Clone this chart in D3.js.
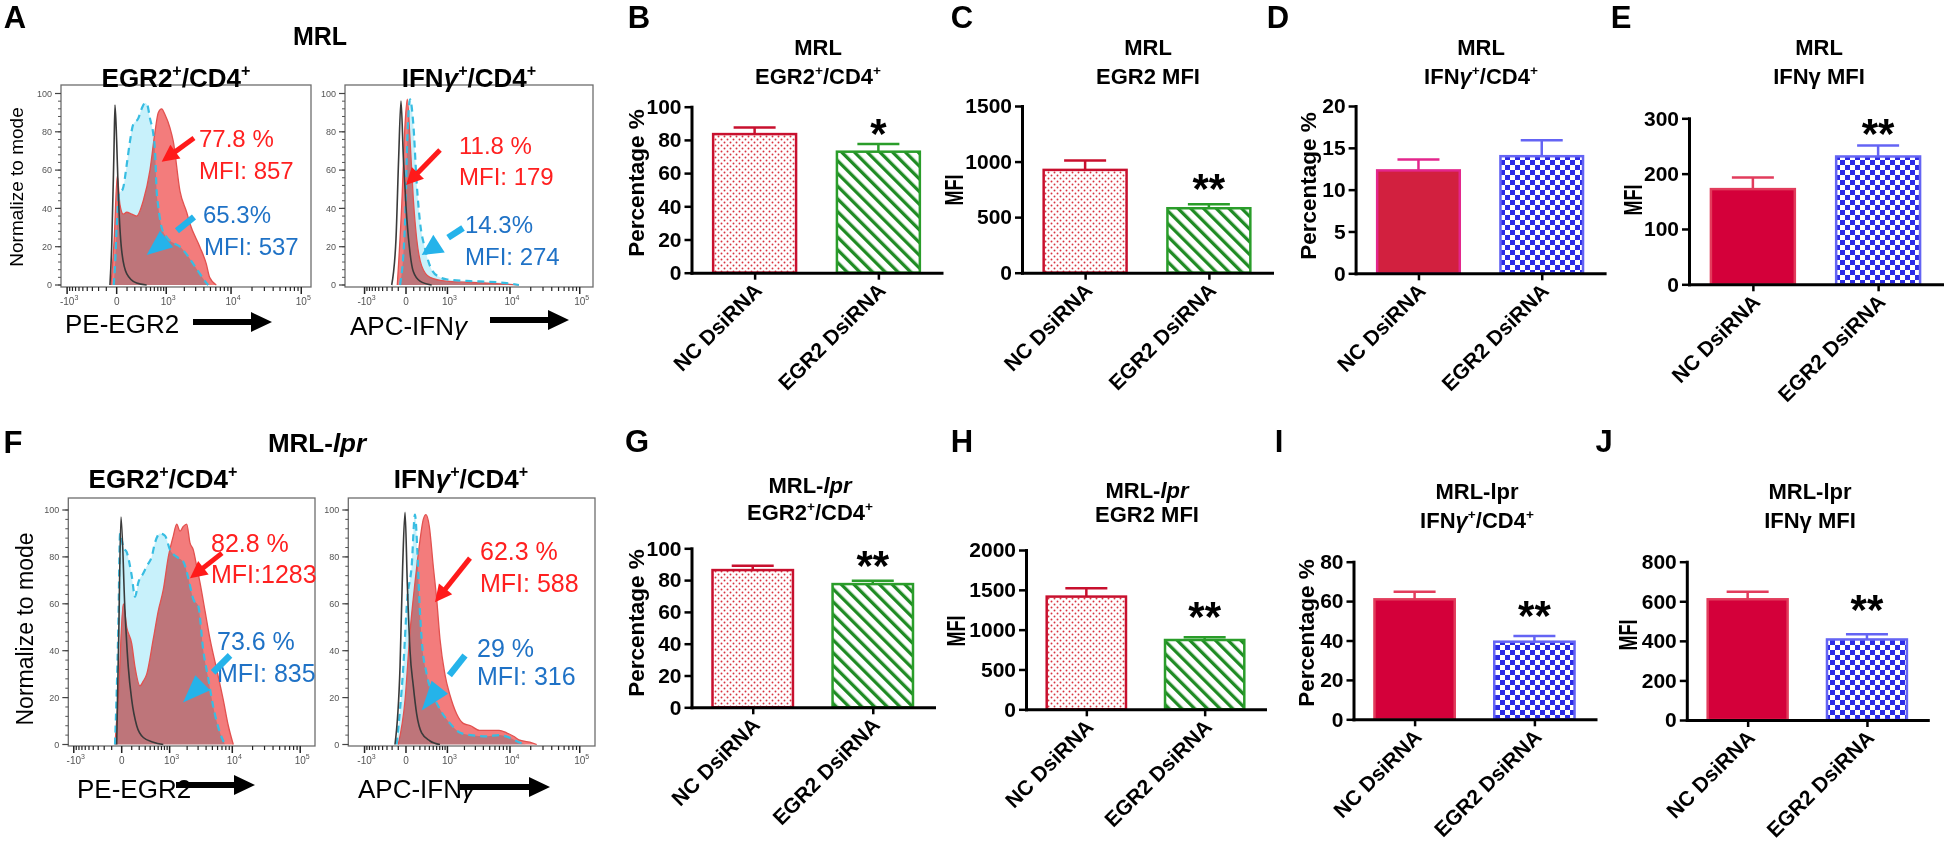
<!DOCTYPE html>
<html><head><meta charset="utf-8">
<script src="https://cdn.jsdelivr.net/npm/d3@7"></script>
<style>html,body{margin:0;padding:0;background:#fff;}svg{display:block;}</style>
</head><body><script>
// ---------------- DATA ----------------
const groups = ["NC DsiRNA", "EGR2 DsiRNA"];

// bar charts: mean and SEM
const mrlEgr2PctMean = [83.5, 72.9], mrlEgr2PctErr = [3.9, 4.6];
const mrlEgr2MfiMean = [925, 580],   mrlEgr2MfiErr = [84, 36];
const mrlIfngPctMean = [12.3, 14.0], mrlIfngPctErr = [1.3, 1.9];
const mrlIfngMfiMean = [172, 231],   mrlIfngMfiErr = [21, 20];
const lprEgr2PctMean = [86.3, 77.5], lprEgr2PctErr = [2.7, 2.1];
const lprEgr2MfiMean = [1415, 870],  lprEgr2MfiErr = [105, 35];
const lprIfngPctMean = [60.9, 39.4], lprIfngPctErr = [3.9, 2.9];
const lprIfngMfiMean = [610, 407],   lprIfngMfiErr = [38, 26];

const ticksPct100 = [0, 20, 40, 60, 80, 100];
const ticksMrlEgr2Mfi = [0, 500, 1000, 1500];
const ticksPct20 = [0, 5, 10, 15, 20];
const ticksMrlIfngMfi = [0, 100, 200, 300];
const ticksLprEgr2Mfi = [0, 500, 1000, 1500, 2000];
const ticksPct80 = [0, 20, 40, 60, 80];
const ticksLprIfngMfi = [0, 200, 400, 600, 800];

const sigB = "*", sigC = "**", sigD = "", sigE = "**", sigG = "**", sigH = "**", sigI = "**", sigJ = "**";

// flow histograms: [fluorescence, % of mode]
const mrlEgr2Iso = [[-61,0],[-44,20],[-23,70],[-14,94],[0,75],[13,49],[44,18],[96,6],[228,1],[412,0]];
const mrlEgr2Nc = [[-50,0],[-20,25],[5,57],[28,42],[60,37],[96,38],[157,37],[228,36],[343,44],[487,60],[618,80],[715,90],[828,92],[949,89],[1162,82],[1322,75],[1703,49],[2177,38],[2451,32],[3464,20],[4339,11],[4860,4],[6104,0]];
const mrlEgr2Si = [[-25,0],[-14,10],[0,30],[22,48],[54,50],[103,65],[135,75],[179,84],[254,87],[312,92],[377,95],[426,94],[487,87],[570,79],[618,70],[666,49],[715,41],[828,30],[1017,25],[1322,22],[1703,20],[2177,16],[2757,11],[3464,6],[4147,2],[4637,0]];

const mrlIfngIso = [[-208,0],[-135,24],[-94,67],[-62,96],[-32,67],[0,41],[40,20],[94,7],[202,2],[457,0]];
const mrlIfngNc = [[-115,0],[-53,41],[-11,84],[15,97],[49,76],[94,45],[146,24],[233,10],[415,4],[953,2],[4481,1],[13490,0]];
const mrlIfngSi = [[-75,0],[-11,33],[15,76],[49,97],[94,84],[146,53],[202,33],[300,19],[459,8],[709,4],[953,3],[2525,2],[4481,1.7],[8904,1],[13490,0]];

const lprEgr2Iso = [[-46,0],[-26,47],[-6,97],[29,57],[62,33],[100,19],[164,8],[266,3],[472,1],[760,0]];
const lprEgr2Nc = [[-63,0],[-30,20],[14,60],[46,50],[100,43],[141,33],[212,25],[266,27],[329,30],[472,45],[604,57],[760,66],[946,80],[1165,89],[1335,94],[1521,91],[1729,93],[1968,94],[2227,86],[2517,83],[2850,76],[3216,69],[3850,57],[4597,45],[5822,32],[7325,19],[8720,8],[10350,0]];
const lprEgr2Si = [[-63,0],[-30,50],[-14,90],[14,84],[46,82],[100,72],[141,63],[186,69],[266,73],[329,76],[434,80],[515,86],[654,90],[821,89],[1016,83],[1335,80],[1729,78],[2090,71],[2517,62],[3023,59],[3622,40],[4330,28],[5167,16],[6535,5],[7775,0]];

const lprIfngIso = [[-151,0],[-75,33],[-40,76],[-11,99],[15,69],[49,40],[94,25],[146,13],[233,5],[415,1.5],[709,0]];
const lprIfngNc = [[-100,0],[-11,19],[49,48],[119,69],[202,87],[265,96],[321,98],[398,93],[501,76],[601,62],[709,45],[892,30],[1118,21],[1475,13],[1911,9],[2525,8],[3482,6],[4895,6],[6912,6],[8904,5],[11280,3.5],[13490,2],[19360,1],[24400,0]];
const lprIfngSi = [[-124,0],[-32,33],[15,62],[71,76],[119,98],[156,83],[190,62],[233,45],[337,30],[501,21],[709,15],[1118,9],[1702,5],[2525,4],[4481,3.5],[6912,4],[9660,3],[13490,1],[17200,0]];

const mrlEgr2Ann = ["77.8 %", "MFI: 857", "65.3%", "MFI: 537"];
const mrlIfngAnn = ["11.8 %", "MFI: 179", "14.3%", "MFI: 274"];
const lprEgr2Ann = ["82.8 %", "MFI:1283", "73.6 %", "MFI: 835"];
const lprIfngAnn = ["62.3 %", "MFI: 588", "29 %", "MFI: 316"];

const flowTicks = [-1000, 0, 1000, 10000, 100000];
const flowTickLabels = [["-10","3"],["0",""],["10","3"],["10","4"],["10","5"]];
const histYTicks = [0, 20, 40, 60, 80, 100];

// ---------------- SETUP ----------------
const W = 1946, H = 846;
const FONT = '"Liberation Sans", Arial, Helvetica, sans-serif';
const svg = d3.select('body').append('svg').attr('width', W).attr('height', H).attr('font-family', FONT);
svg.append('rect').attr('width', W).attr('height', H).attr('fill', '#fff');

const defs = svg.append('defs');
const pD = defs.append('pattern').attr('id', 'dots').attr('patternUnits', 'userSpaceOnUse').attr('width', 6).attr('height', 6);
pD.append('rect').attr('width', 6).attr('height', 6).attr('fill', '#fff');
pD.append('circle').attr('cx', 1.5).attr('cy', 1.5).attr('r', 0.95).attr('fill', '#d8343f');
pD.append('circle').attr('cx', 4.5).attr('cy', 4.5).attr('r', 0.95).attr('fill', '#d8343f');
const pH = defs.append('pattern').attr('id', 'hatch').attr('patternUnits', 'userSpaceOnUse').attr('width', 9).attr('height', 9).attr('patternTransform', 'rotate(-45)');
pH.append('rect').attr('width', 9).attr('height', 9).attr('fill', '#fff');
pH.append('rect').attr('width', 3.3).attr('height', 9).attr('fill', '#1f8b24');
const pC = defs.append('pattern').attr('id', 'checker').attr('patternUnits', 'userSpaceOnUse').attr('width', 10).attr('height', 10);
pC.append('rect').attr('width', 10).attr('height', 10).attr('fill', '#fff');
pC.append('rect').attr('width', 5).attr('height', 5).attr('fill', '#2b2be6');
pC.append('rect').attr('x', 5).attr('y', 5).attr('width', 5).attr('height', 5).attr('fill', '#2b2be6');

function richText(g, x, y, parts, size, opts = {}) {
  const t = g.append('text').attr('x', x).attr('y', y).attr('font-size', size)
    .attr('font-weight', opts.weight || 'normal').attr('text-anchor', opts.anchor || 'start')
    .attr('fill', opts.fill || '#000');
  let up = false;
  parts.forEach(p => {
    const s = Array.isArray(p) ? p[0] : p, k = Array.isArray(p) ? p[1] : '';
    const ts = t.append('tspan').text(s);
    if (k === 'sup') {
      ts.attr('font-size', size * 0.62);
      if (!up) { ts.attr('dy', -size * 0.42); up = true; }
    } else {
      if (up) { ts.attr('dy', size * 0.42); up = false; }
      if (k === 'it') ts.attr('font-style', 'italic');
    }
  });
  return t;
}

// panel letters
const panelLetters = ['A','B','C','D','E','F','G','H','I','J'];
const letterPos = [[15,28],[639,28],[962,28],[1278,28],[1621,28],[13,453],[637,452],[962,452],[1279,452],[1604,452]];
panelLetters.forEach((l, i) => svg.append('text').attr('x', letterPos[i][0]).attr('y', letterPos[i][1])
  .attr('text-anchor', 'middle').attr('font-size', 31).attr('font-weight', 'bold').text(l));

// group titles for flow panels
richText(svg, 320, 45, [['MRL']], 25, { weight: 'bold', anchor: 'middle' });
richText(svg, 317, 452, [['MRL-'], ['lpr', 'it']], 26, { weight: 'bold', anchor: 'middle' });

// ---------------- HISTOGRAMS ----------------
function bigArrow(g, xa, xb, yc) {
  g.append('path').attr('d', `M${xa},${yc - 3}H${xb - 21}V${yc - 10}L${xb},${yc}L${xb - 21},${yc + 10}V${yc + 3}H${xa}Z`).attr('fill', '#000');
}
function annArrow(g, p1, p2, color, dashed) {
  const [x1, y1] = p1, [x2, y2] = p2;
  const dx = x2 - x1, dy = y2 - y1, L = Math.hypot(dx, dy), ux = dx / L, uy = dy / L, px = -uy, py = ux;
  let headL, hw, sw;
  if (dashed) {
    headL = L * 0.42; hw = 21; sw = 6.5;
    const d1 = L * 0.36;
    g.append('line').attr('x1', x1).attr('y1', y1).attr('x2', x1 + ux * d1).attr('y2', y1 + uy * d1).attr('stroke', color).attr('stroke-width', sw);
  } else {
    headL = 17; hw = 17; sw = 5;
    g.append('line').attr('x1', x1).attr('y1', y1).attr('x2', x2 - ux * headL * 0.8).attr('y2', y2 - uy * headL * 0.8).attr('stroke', color).attr('stroke-width', sw);
  }
  const bx = x2 - ux * headL, by = y2 - uy * headL;
  g.append('path').attr('d', `M${x2},${y2}L${bx + px * hw / 2},${by + py * hw / 2}L${bx - px * hw / 2},${by - py * hw / 2}Z`).attr('fill', color);
}

const flowMinor = [];
[-1, 1].forEach(s => d3.range(1, 10).forEach(k => flowMinor.push(s * k * 100)));
[1000, 10000].forEach(d => d3.range(2, 10).forEach(k => flowMinor.push(k * d)));

function drawHist(P) {
  const g = svg.append('g');
  const x = d3.scaleSymlog().constant(P.c).domain(P.xDomain).range([P.x0, P.x1]);
  const y = d3.scaleLinear().domain([0, 100]).range([P.yZero, P.yHundred]);
  const area = d3.area().x(d => x(d[0])).y0(y(0)).y1(d => y(d[1])).curve(d3.curveMonotoneX);
  const line = d3.line().x(d => x(d[0])).y(d => y(d[1])).curve(d3.curveMonotoneX);
  g.append('path').datum(P.si).attr('d', area).attr('fill', '#c8f1fb');
  g.append('path').datum(P.nc).attr('d', area).attr('fill', '#f37c7c').style('mix-blend-mode', 'multiply');
  g.append('path').datum(P.nc).attr('d', line).attr('fill', 'none').attr('stroke', '#e2514f').attr('stroke-width', 1.3);
  g.append('path').datum(P.si).attr('d', line).attr('fill', 'none').attr('stroke', '#38bde2').attr('stroke-width', 2.2).attr('stroke-dasharray', '7,5');
  g.append('path').datum(P.iso).attr('d', line).attr('fill', 'none').attr('stroke', '#3a3a3a').attr('stroke-width', 1.6);
  g.append('rect').attr('x', P.x0).attr('y', P.top).attr('width', P.x1 - P.x0).attr('height', P.bottom - P.top)
    .attr('fill', 'none').attr('stroke', '#6d6d6d').attr('stroke-width', 1.3);
  // y axis
  d3.range(0, 101, 4).forEach(v => g.append('line').attr('x1', P.x0 - 3).attr('x2', P.x0).attr('y1', y(v)).attr('y2', y(v)).attr('stroke', '#555').attr('stroke-width', 1));
  histYTicks.forEach(v => {
    g.append('line').attr('x1', P.x0 - 6).attr('x2', P.x0).attr('y1', y(v)).attr('y2', y(v)).attr('stroke', '#444').attr('stroke-width', 1.2);
    g.append('text').attr('x', P.x0 - 9).attr('y', y(v)).attr('dy', '0.35em').attr('text-anchor', 'end')
      .attr('font-size', 9).attr('fill', '#555').text(v);
  });
  // x axis
  flowMinor.forEach(v => g.append('line').attr('x1', x(v)).attr('x2', x(v)).attr('y1', P.bottom).attr('y2', P.bottom + 4).attr('stroke', '#222').attr('stroke-width', 1.2));
  flowTicks.forEach((v, i) => {
    g.append('line').attr('x1', x(v)).attr('x2', x(v)).attr('y1', P.bottom).attr('y2', P.bottom + 7).attr('stroke', '#222').attr('stroke-width', 1.5);
    const t = g.append('text').attr('x', x(v) + (flowTickLabels[i][1] ? 2 : 0)).attr('y', P.bottom + 18)
      .attr('text-anchor', 'middle').attr('font-size', 10).attr('fill', '#555');
    t.append('tspan').text(flowTickLabels[i][0]);
    if (flowTickLabels[i][1]) t.append('tspan').attr('dy', -5).attr('font-size', 7).text(flowTickLabels[i][1]);
  });
  // titles and labels
  richText(g, P.titlePos[0], P.titlePos[1], P.title, 26, { weight: 'bold', anchor: 'middle' });
  richText(g, P.xLabelPos[0], P.xLabelPos[1], P.xLabel, 26);
  bigArrow(g, P.axArrow[0], P.axArrow[1], P.axArrow[2]);
  if (P.yLabel) {
    g.append('text').attr('transform', `translate(${P.yLabelPos[0]},${P.yLabelPos[1]}) rotate(-90)`)
      .attr('text-anchor', 'middle').attr('dy', '0.35em').attr('font-size', P.yLabelSize).text('Normalize to mode');
  }
  // annotations
  const A = P.ann;
  A.texts.forEach((s, i) => g.append('text').attr('x', A.pos[i][0]).attr('y', A.pos[i][1]).attr('font-size', A.size)
    .attr('fill', i < 2 ? '#ff2020' : '#1f72c6').text(s));
  annArrow(g, [x(A.red[0][0]), y(A.red[0][1])], [x(A.red[1][0]), y(A.red[1][1])], '#ff1a1a', false);
  annArrow(g, [x(A.blue[0][0]), y(A.blue[0][1])], [x(A.blue[1][0]), y(A.blue[1][1])], '#25b3ea', true);
}

const egrTitle = [['EGR2'], ['+', 'sup'], ['/CD4'], ['+', 'sup']];
const ifnTitle = [['IFN'], ['γ', 'it'], ['+', 'sup'], ['/CD4'], ['+', 'sup']];
const histPanels = [
  { iso: mrlEgr2Iso, nc: mrlEgr2Nc, si: mrlEgr2Si, c: 250, xDomain: [-1274, 137200], x0: 61, x1: 311, top: 85, bottom: 287, yZero: 285, yHundred: 93.5,
    title: egrTitle, titlePos: [176, 87], xLabel: [['PE-EGR2']], xLabelPos: [65, 333], axArrow: [193, 272, 322],
    yLabel: true, yLabelPos: [16, 187], yLabelSize: 19,
    ann: { size: 24, texts: mrlEgr2Ann, pos: [[199,147],[199,179],[203,223],[204,255]], red: [[2826,76.8],[828,64.4]], blue: [[2826,35.5],[412,15.7]] } },
  { iso: mrlIfngIso, nc: mrlIfngNc, si: mrlIfngSi, c: 350, xDomain: [-2203, 154300], x0: 345, x1: 593, top: 85, bottom: 287, yZero: 285, yHundred: 93.5,
    title: ifnTitle, titlePos: [469, 87], xLabel: [['APC-IFN'], ['γ', 'it']], xLabelPos: [350, 335], axArrow: [490, 569, 320],
    yLabel: false,
    ann: { size: 24, texts: mrlIfngAnn, pos: [[459,154],[459,185],[465,233],[465,265]], red: [[709,70.5],[0,52.2]], blue: [[1891,29.8],[233,15.7]] } },
  { iso: lprEgr2Iso, nc: lprEgr2Nc, si: lprEgr2Si, c: 250, xDomain: [-1252, 164450], x0: 68.3, x1: 315, top: 498, bottom: 746, yZero: 744.5, yHundred: 510,
    title: egrTitle, titlePos: [163, 488], xLabel: [['PE-EGR2']], xLabelPos: [77, 798], axArrow: [176, 255, 785],
    yLabel: true, yLabelPos: [25, 629], yLabelSize: 23,
    ann: { size: 25, texts: lprEgr2Ann, pos: [[211,552],[211,583],[217,650],[217,682]], red: [[7000,81.6],[2227,70.9]], blue: [[9245,38],[1708,17.9]] } },
  { iso: lprIfngIso, nc: lprIfngNc, si: lprIfngSi, c: 350, xDomain: [-1941, 164700], x0: 348.3, x1: 595, top: 498, bottom: 746, yZero: 744.5, yHundred: 510,
    title: ifnTitle, titlePos: [461, 488], xLabel: [['APC-IFN'], ['γ', 'it']], xLabelPos: [358, 798], axArrow: [460, 550, 787],
    yLabel: false,
    ann: { size: 25, texts: lprIfngAnn, pos: [[480,560],[480,592],[477,657],[477,685]], red: [[2465,79.5],[550,60.7]], blue: [[2041,38],[233,14.5]] } }
];
histPanels.forEach(drawHist);

// ---------------- BAR CHARTS ----------------
const barStyles = {
  dots: { fill: 'url(#dots)', stroke: '#c8102e' },
  hatch: { fill: 'url(#hatch)', stroke: '#2a9d2a' },
  solidD: { fill: '#d2203f', stroke: '#e3268c' },
  solid: { fill: '#d4003a', stroke: '#e23c5c' },
  checker: { fill: 'url(#checker)', stroke: '#6464f4' }
};
const mrlT = [['MRL']], lprItT = [['MRL-'], ['lpr', 'it']], lprT = [['MRL-lpr']];
const barPanels = [
  { mean: mrlEgr2PctMean, err: mrlEgr2PctErr, ticks: ticksPct100, ax: 691.5, w: 250, y0: 272.7, yTop: 106.7, t1: mrlT, t2: egrTitle, tcx: 818, tb: [55, 84], yl: 'Percentage %', ylp: [636, 183], styles: ['dots', 'hatch'], sig: sigB, sigDy: 19 },
  { mean: mrlEgr2MfiMean, err: mrlEgr2MfiErr, ticks: ticksMrlEgr2Mfi, ax: 1022, w: 250, y0: 272.7, yTop: 106, t1: mrlT, t2: [['EGR2 MFI']], tcx: 1148, tb: [55, 84], yl: 'MFI', ylp: [954, 190], styles: ['dots', 'hatch'], sig: sigC, sigDy: 24 },
  { mean: mrlIfngPctMean, err: mrlIfngPctErr, ticks: ticksPct20, ax: 1355.6, w: 249, y0: 273.3, yTop: 106, t1: mrlT, t2: ifnTitle, tcx: 1481, tb: [55, 84], yl: 'Percentage %', ylp: [1308, 186], styles: ['solidD', 'checker'], sig: sigD, sigDy: 20 },
  { mean: mrlIfngMfiMean, err: mrlIfngMfiErr, ticks: ticksMrlIfngMfi, ax: 1689, w: 253, y0: 284.3, yTop: 118.3, t1: mrlT, t2: [['IFN'], ['γ MFI']], tcx: 1819, tb: [55, 84], yl: 'MFI', ylp: [1633, 200], styles: ['solid', 'checker'], sig: sigE, sigDy: 20 },
  { mean: lprEgr2PctMean, err: lprEgr2PctErr, ticks: ticksPct100, ax: 691.5, w: 242.5, y0: 707.3, yTop: 548.3, t1: lprItT, t2: egrTitle, tcx: 810, tb: [493, 520], yl: 'Percentage %', ylp: [635.7, 623], styles: ['dots', 'hatch'], sig: sigG, sigDy: 24 },
  { mean: lprEgr2MfiMean, err: lprEgr2MfiErr, ticks: ticksLprEgr2Mfi, ax: 1026, w: 239, y0: 709.3, yTop: 550, t1: lprItT, t2: [['EGR2 MFI']], tcx: 1147, tb: [498, 522], yl: 'MFI', ylp: [956, 631], styles: ['dots', 'hatch'], sig: sigH, sigDy: 29 },
  { mean: lprIfngPctMean, err: lprIfngPctErr, ticks: ticksPct80, ax: 1353.5, w: 242, y0: 719.3, yTop: 561.7, t1: lprT, t2: ifnTitle, tcx: 1477, tb: [499, 528], yl: 'Percentage %', ylp: [1306, 633], styles: ['solid', 'checker'], sig: sigI, sigDy: 29 },
  { mean: lprIfngMfiMean, err: lprIfngMfiErr, ticks: ticksLprIfngMfi, ax: 1686.8, w: 241, y0: 720, yTop: 561.7, t1: lprT, t2: [['IFN'], ['γ MFI']], tcx: 1810, tb: [499, 528], yl: 'MFI', ylp: [1628, 635], styles: ['solid', 'checker'], sig: sigJ, sigDy: 33 }
];

function drawBarPanel(P) {
  const g = svg.append('g');
  const x = d3.scalePoint().domain(groups).range([P.ax, P.ax + P.w]).padding(0.51);
  const y = d3.scaleLinear().domain([0, d3.max(P.ticks)]).range([P.y0, P.yTop]);
  const bw = x.step() * 0.67;
  groups.forEach((name, i) => {
    const st = barStyles[P.styles[i]];
    const cx = x(name), v = P.mean[i], e = P.err[i];
    g.append('line').attr('x1', cx).attr('x2', cx).attr('y1', y(v)).attr('y2', y(v + e)).attr('stroke', st.stroke).attr('stroke-width', 2.5);
    g.append('line').attr('x1', cx - 21).attr('x2', cx + 21).attr('y1', y(v + e)).attr('y2', y(v + e)).attr('stroke', st.stroke).attr('stroke-width', 2.5);
    g.append('rect').attr('x', cx - bw / 2).attr('y', y(v)).attr('width', bw).attr('height', y(0) - y(v))
      .attr('fill', st.fill).attr('stroke', st.stroke).attr('stroke-width', 2.5);
  });
  const ya = g.append('g').attr('transform', `translate(${P.ax},0)`)
    .call(d3.axisLeft(y).tickValues(P.ticks).tickFormat(d3.format('d')).tickSize(7).tickSizeOuter(0).tickPadding(3));
  ya.select('.domain').attr('stroke-width', 3).attr('stroke-linecap', 'square');
  ya.selectAll('.tick line').attr('stroke-width', 2.5);
  ya.selectAll('.tick text').attr('font-size', 21).attr('font-weight', 'bold').attr('font-family', FONT).attr('fill', '#000');
  const xa = g.append('g').attr('transform', `translate(0,${P.y0})`)
    .call(d3.axisBottom(x).tickSize(7).tickSizeOuter(0));
  xa.select('.domain').attr('stroke-width', 3).attr('stroke-linecap', 'square');
  xa.selectAll('.tick line').attr('stroke-width', 2.5);
  xa.selectAll('.tick text').attr('x', 0).attr('y', 0).attr('dy', 0)
    .attr('transform', 'translate(8,19) rotate(-45)').attr('text-anchor', 'end')
    .attr('font-size', 21).attr('font-weight', 'bold').attr('font-family', FONT).attr('fill', '#000');
  // titles
  richText(g, P.tcx, P.tb[0], P.t1, 22, { weight: 'bold', anchor: 'middle' });
  richText(g, P.tcx, P.tb[1], P.t2, 22, { weight: 'bold', anchor: 'middle' });
  // y label
  const isMfi = P.yl === 'MFI';
  const yl = g.append('text').attr('transform', `translate(${P.ylp[0]},${P.ylp[1]}) rotate(-90)`)
    .attr('text-anchor', 'middle').attr('dy', '0.35em').attr('font-size', isMfi ? 25 : 22.5).attr('font-weight', 'bold').text(P.yl);
  if (isMfi) yl.attr('textLength', 31).attr('lengthAdjust', 'spacingAndGlyphs');
  // significance
  if (P.sig) {
    const top = y(P.mean[1] + P.err[1]) - P.sigDy;
    g.append('text').attr('x', x(groups[1])).attr('y', top + 23).attr('text-anchor', 'middle')
      .attr('font-size', 42).attr('font-weight', 'bold').text(P.sig);
  }
}
barPanels.forEach(drawBarPanel);
</script></body></html>
